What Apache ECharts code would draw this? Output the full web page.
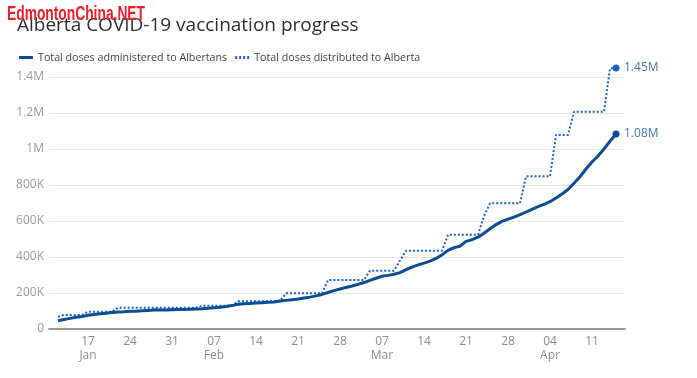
<!DOCTYPE html>
<html>
<head>
<meta charset="utf-8">
<script src="https://cdn.jsdelivr.net/npm/echarts@6/dist/echarts.min.js"></script>
<style>
html,body{margin:0;padding:0;background:#fff;}
#chart{width:697px;height:378px;}
</style>
</head>
<body>
<div id="chart"></div>
<script>
// Axis categories: every day from 2021-01-11 to 2021-04-16
const axisStart = '2021-01-11';
const axisDays = 96;
const monthNames = ['Jan','Feb','Mar','Apr','May','Jun','Jul','Aug','Sep','Oct','Nov','Dec'];
const yTicks = [0, 200, 400, 600, 800, 1000, 1200, 1400]; // thousands

// Series run from 2021-01-12 to 2021-04-15 (94 days), values in thousands of doses
const administered = [46,53,59,65,70,76,81,85,88,92,95,96,98,99,101,103,105,106,106,107,
  108,109,110,111,112,115,118,121,125,130,137,140,142,144,146,148,150,155,159,163,
  167,172,177,184,192,203,213,222,231,239,248,258,270,282,293,298,304,313,330,344,
  356,366,377,392,412,437,452,460,487,496,510,532,557,580,598,610,622,635,650,665,
  680,693,707,728,750,775,810,846,889,928,961,1000,1043,1083];
const distributed = [68,78,78,78,78,96,96,96,96,96,
  118,118,118,118,118,118,118,118,118,118,118,118,118,118,
  129,129,129,129,129,129,
  154,154,154,154,154,154,154,154,
  198,198,198,198,198,198,198,
  272,272,272,272,272,272,272,
  324,324,324,324,324,380,
  435,435,435,435,435,435,435,
  524,524,524,524,524,524,628,
  698,698,698,698,698,698,
  848,848,848,848,848,
  1078,1078,1078,
  1207,1207,1207,1207,1207,1207,
  1448,1450];

const seriesNames = ['Total doses administered to Albertans', 'Total doses distributed to Alberta'];

// build category list
const categories = [];
{
  const t0 = Date.parse(axisStart + 'T00:00:00Z');
  for (let i = 0; i < axisDays; i++) {
    categories.push(new Date(t0 + i * 86400000).toISOString().slice(0, 10));
  }
}
const seriesDates = categories.slice(1, 1 + administered.length);
const firstLabelIndex = 6;

function pairs(vals) { return seriesDates.map((d, i) => [d, vals[i]]); }
function endSize(n) { return (v, p) => (p.dataIndex === n - 1 ? 7 : 0); }

const chart = echarts.init(document.getElementById('chart'), null, {renderer: 'canvas'});
chart.setOption({
  animation: false,
  backgroundColor: '#ffffff',
  textStyle: {fontFamily: 'Open Sans'},
  title: {
    text: 'Alberta COVID-19 vaccination progress',
    left: 12, top: 11,
    textStyle: {fontFamily: 'Open Sans', fontSize: 19, fontWeight: 'normal', color: '#2e2e2e'}
  },
  graphic: [{
    type: 'text', left: 7, top: 4, z: 100, scaleX: 0.69,
    style: {text: 'EdmontonChina.NET', fill: '#e8202a',
      font: 'bold 20px "Liberation Sans"'}
  }],
  legend: {
    left: 14, top: 47,
    itemWidth: 14, itemHeight: 3, itemGap: 8,
    textStyle: {fontSize: 10.7, color: '#444444', fontFamily: 'Open Sans'},
    data: [
      {name: seriesNames[0], icon: 'rect'},
      {name: seriesNames[1], icon: 'path://M0,0h2v3h-2zM4,0h2v3h-2zM8,0h2v3h-2zM12,0h2v3h-2z'}
    ]
  },
  grid: {left: 49, right: 72, top: 77, bottom: 49, containLabel: false},
  xAxis: {
    type: 'category',
    data: categories,
    boundaryGap: true,
    axisLine: {lineStyle: {color: '#999999', width: 2}},
    axisTick: {show: false},
    splitLine: {show: false},
    axisLabel: {
      interval: (index) => (index - firstLabelIndex) % 7 === 0 && index >= firstLabelIndex,
      color: '#8c8c8c', fontSize: 12, margin: 6, lineHeight: 14,
      formatter: (value, index) => {
        const d = value.slice(8, 10);
        const m = +value.slice(5, 7);
        if (index === firstLabelIndex || +d <= 7) return d + '\n' + monthNames[m - 1];
        return d;
      }
    }
  },
  yAxis: {
    type: 'value',
    min: yTicks[0], max: yTicks[yTicks.length - 1], interval: yTicks[1] - yTicks[0],
    axisLine: {show: false},
    axisTick: {show: false},
    splitLine: {lineStyle: {color: '#e6e6e6', width: 1}},
    axisLabel: {
      color: '#9a9a9a', fontSize: 12, margin: 5,
      formatter: (v) => v === 0 ? '0' : (v >= 1000 ? (v / 1000) + 'M' : v + 'K')
    }
  },
  series: [
    {
      name: seriesNames[0], type: 'line', data: pairs(administered),
      clip: false, silent: true,
      color: '#0b4c93',
      lineStyle: {color: '#0b4c93', width: 3},
      symbol: 'circle', showSymbol: true, showAllSymbol: true,
      symbolSize: endSize(administered.length),
      itemStyle: {color: '#0b4c93'},
      endLabel: {show: true, distance: 8, color: '#4673b0', fontSize: 12,
        formatter: (p) => (p.value[1] / 1000).toFixed(2) + 'M'},
      z: 3
    },
    {
      name: seriesNames[1], type: 'line', data: pairs(distributed),
      clip: false, silent: true,
      color: '#1a62c8',
      lineStyle: {color: '#1a62c8', width: 2, type: [2, 2]},
      symbol: 'circle', showSymbol: true, showAllSymbol: true,
      symbolSize: endSize(distributed.length),
      itemStyle: {color: '#1a62c8'},
      endLabel: {show: true, distance: 8, color: '#4673b0', fontSize: 12,
        formatter: (p) => (p.value[1] / 1000).toFixed(2) + 'M'},
      z: 2
    }
  ]
});
</script>
</body>
</html>
